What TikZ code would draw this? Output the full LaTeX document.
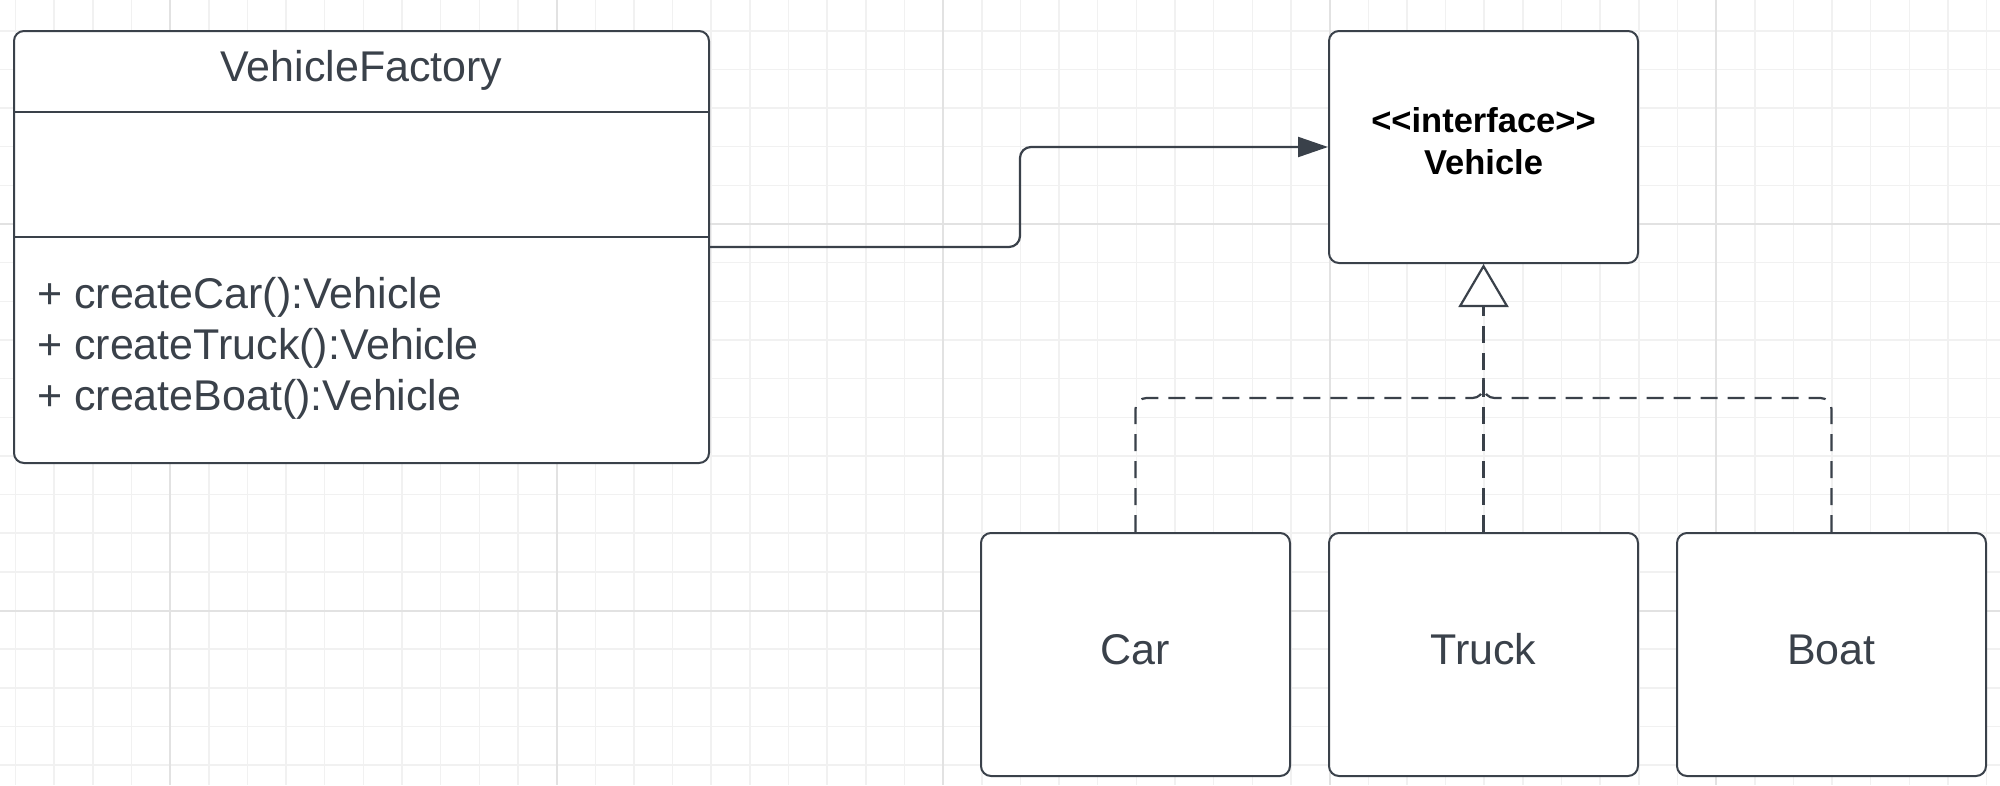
\documentclass[tikz,border=0pt]{standalone}
\usepackage{fontspec}
\setmainfont{Liberation Sans}
\usetikzlibrary{arrows.meta}
\definecolor{ink}{HTML}{3A414A}
\definecolor{gridminor}{HTML}{F1F1F1}
\definecolor{gridmajor}{HTML}{E2E2E2}
\begin{document}
\begin{tikzpicture}[x=1pt,y=-1pt,
  umlbox/.style={draw=ink, line width=2pt, rounded corners=10pt, fill=white, inner sep=0pt},
  lbl/.style={text=ink, font=\fontsize{43}{51}\selectfont, inner sep=0pt, anchor=base},
  ilbl/.style={text=black, font=\bfseries\fontsize{34.5}{41}\selectfont, inner sep=0pt, anchor=base},
  conn/.style={draw=ink, line width=2.2pt, rounded corners=11pt},
  realize/.style={conn, dash pattern=on 17pt off 10pt},
  minorline/.style={draw=gridminor, line width=1.5pt},
  majorline/.style={draw=gridmajor, line width=2pt},
]
\fill[white] (0,0) rectangle (2000,785);
\useasboundingbox (0,0) rectangle (2000,785);
% grid
\foreach \k in {0,...,51} \draw[minorline] ({15.5+\k*38.65},0) -- ({15.5+\k*38.65},785);
\foreach \k in {0,...,19} \draw[minorline] (0,{30.75+\k*38.65}) -- (2000,{30.75+\k*38.65});
\foreach \k in {0,...,4} \draw[majorline] ({170.1+\k*386.5},0) -- ({170.1+\k*386.5},785);
\foreach \yy in {224,610.5} \draw[majorline] (0,\yy) -- (2000,\yy);

% VehicleFactory class
\node[umlbox, minimum width=695pt, minimum height=432pt] (vf) at (361.5,247) {};
\coordinate (s1) at (0,112);
\coordinate (s2) at (0,237);
\draw[ink, line width=2pt] (vf.west |- s1) -- (vf.east |- s1);
\draw[ink, line width=2pt] (vf.west |- s2) -- (vf.east |- s2);
\node[lbl] (vft) at (361.5,81) {VehicleFactory};
\node[lbl, anchor=base west] (m1) at (37,308) {+ createCar():Vehicle};
\node[lbl, anchor=base west] (m2) at (37,359) {+ createTruck():Vehicle};
\node[lbl, anchor=base west] (m3) at (37,410) {+ createBoat():Vehicle};

% Vehicle interface
\node[umlbox, minimum width=309pt, minimum height=232pt] (iface) at (1483.5,147) {};
\node[ilbl] (it1) at (1483.5,132) {<{}<interface>{}>};
\node[ilbl] (it2) at (1483.5,174) {Vehicle};

% concrete classes
\node[umlbox, minimum width=309pt, minimum height=243pt] (car) at (1135.5,654.5) {};
\node[umlbox, minimum width=309pt, minimum height=243pt] (truck) at (1483.5,654.5) {};
\node[umlbox, minimum width=309pt, minimum height=243pt] (boat) at (1831.5,654.5) {};
\node[lbl] (carl) at (1135.5,664) {Car};
\node[lbl] (truckl) at (1483.5,664) {Truck};
\node[lbl] (boatl) at (1831.5,664) {Boat};

% association arrow
\coordinate (bend) at (1020,197);
\draw[conn, -{Triangle[length=30pt,width=20pt]}] (vf.east) -| (bend) |- (iface.west);

% realization
\coordinate (jn) at (1483.5,398);
\coordinate (jtop) at (1483.5,378);
\draw[realize] (car.north) |- (jn) -- (jtop);
\draw[realize] (boat.north) |- (jn) -- (jtop);
\draw[realize, -{Triangle[length=43pt,width=50pt,fill=white]}] (truck.north) -- (iface.south);
\end{tikzpicture}
\end{document}
